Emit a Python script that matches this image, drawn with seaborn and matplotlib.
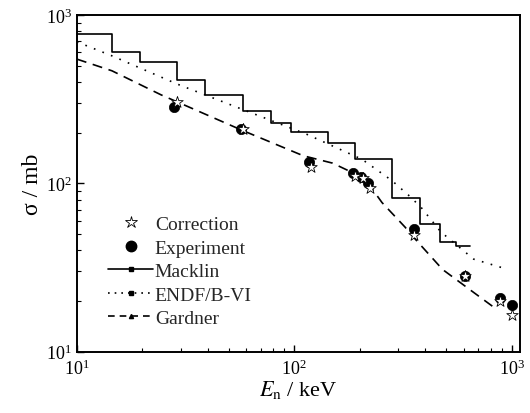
import matplotlib
matplotlib.use("Agg")
import matplotlib.pyplot as plt
import matplotlib.ticker as mticker
from matplotlib.lines import Line2D
import numpy as np
import pandas as pd
import seaborn as sns

# Macklin: histogram bin edges (keV) and cross sections (mb)
macklin_edges = [10, 14.5, 19.5, 29, 38.9, 58, 78.3, 97, 143, 190, 281, 377, 469, 556, 641]
macklin_sigma = [771, 608, 524, 409, 335, 268, 230, 201, 173, 139, 81.8, 57.8, 45, 42.6]

# ENDF/B-VI evaluation
endf_e = [10, 14.5, 29, 57.5, 114, 205, 281, 339, 383, 472, 668, 946]
endf_sigma = [694, 573, 389, 276, 196, 139, 104, 84, 72, 51.5, 35.5, 31]

# Gardner calculation
gardner_e = [10, 14.5, 24.4, 57, 110, 150, 185, 220, 253, 323, 358, 464, 489, 668, 860]
gardner_sigma = [548, 467, 336, 208, 146, 132, 116, 99, 77, 55, 47, 32.4, 30.3, 22.5, 17.7]

# measured points and corrected values
exp_e = [28, 56.6, 117, 186, 202, 218, 354, 607, 883, 1007]
exp_sigma = [286, 210, 134, 115, 109, 100, 53.5, 28, 20.8, 19]
corr_e = [29, 58, 119, 190, 207, 222, 354, 607, 883, 1005]
corr_sigma = [303, 212, 126, 111, 107, 94, 49.3, 28.3, 20, 16.6]

sns.set_theme(style="ticks")
plt.rcParams["font.family"] = ["Liberation Serif", "DejaVu Serif"]
plt.rcParams["mathtext.fontset"] = "stix"

fig, ax = plt.subplots(figsize=(5.3, 4.14), dpi=100)
fig.subplots_adjust(left=0.145, right=0.981, top=0.961, bottom=0.148)

macklin = pd.DataFrame({"E": macklin_edges, "sigma": macklin_sigma + [macklin_sigma[-1]]})
sns.lineplot(data=macklin, x="E", y="sigma", ax=ax, color="black", linewidth=1.2,
             drawstyle="steps-post", sort=False, estimator=None)
sns.lineplot(x=endf_e, y=endf_sigma, ax=ax, color="black", linewidth=1.2,
             linestyle=(0, (1, 4.5)), sort=False, estimator=None)
sns.lineplot(x=gardner_e, y=gardner_sigma, ax=ax, color="black", linewidth=1.2,
             linestyle=(0, (6, 4)), sort=False, estimator=None)
sns.scatterplot(x=exp_e, y=exp_sigma, ax=ax, color="black", marker="o", s=55,
                edgecolor="black", linewidth=0.5, zorder=3)
sns.scatterplot(x=corr_e, y=corr_sigma, ax=ax, marker="*", s=75, facecolor="white",
                edgecolor="black", linewidth=0.6, zorder=4)

ax.set_xscale("log")
ax.set_yscale("log")
ax.set_xlim(10, 1090)
ax.set_ylim(10, 1000)
ax.xaxis.set_major_locator(mticker.LogLocator(base=10))
ax.yaxis.set_major_locator(mticker.LogLocator(base=10))
ax.xaxis.set_minor_locator(mticker.LogLocator(base=10, subs=np.arange(2, 10)))
ax.yaxis.set_minor_locator(mticker.LogLocator(base=10, subs=np.arange(2, 10)))
ax.xaxis.set_minor_formatter(mticker.NullFormatter())
ax.yaxis.set_minor_formatter(mticker.NullFormatter())
ax.tick_params(which="major", direction="in", length=5, width=1.0, labelsize=13,
               top=False, right=False, color="black", labelcolor="black")
ax.tick_params(axis="x", which="major", pad=5)
ax.tick_params(which="minor", direction="in", length=3, width=0.8, top=False, right=False,
               color="black")
for sp in ax.spines.values():
    sp.set_visible(True)
    sp.set_linewidth(1.4)
    sp.set_color("black")

ax.set_xlabel(r"$E_{\rm n}$ / keV", fontsize=16, color="black", labelpad=0)
ax.set_ylabel(r"σ / mb", fontsize=17, color="black", labelpad=2)

handles = [
    Line2D([], [], linestyle="none", marker="*", markersize=9, markerfacecolor="white",
           markeredgecolor="black", markeredgewidth=0.6),
    Line2D([], [], linestyle="none", marker="o", markersize=7.5, color="black"),
    Line2D([], [], linestyle="-", color="black", linewidth=1.2, marker="s", markersize=2.5),
    Line2D([], [], linestyle=(0, (1, 3)), color="black", linewidth=1.2, marker="s", markersize=2.5),
    Line2D([], [], linestyle=(0, (4, 3)), color="black", linewidth=1.2, marker="^", markersize=3),
]
labels = ["Correction", "Experiment", "Macklin", "ENDF/B-VI", "Gardner"]
ax.legend(handles, labels, loc="upper left", bbox_to_anchor=(0.04, 0.445), frameon=False,
          fontsize=14, handlelength=2.3, handletextpad=0.1, labelspacing=0.3,
          numpoints=1, borderpad=0.2)

fig.savefig("out.png", dpi=100)
